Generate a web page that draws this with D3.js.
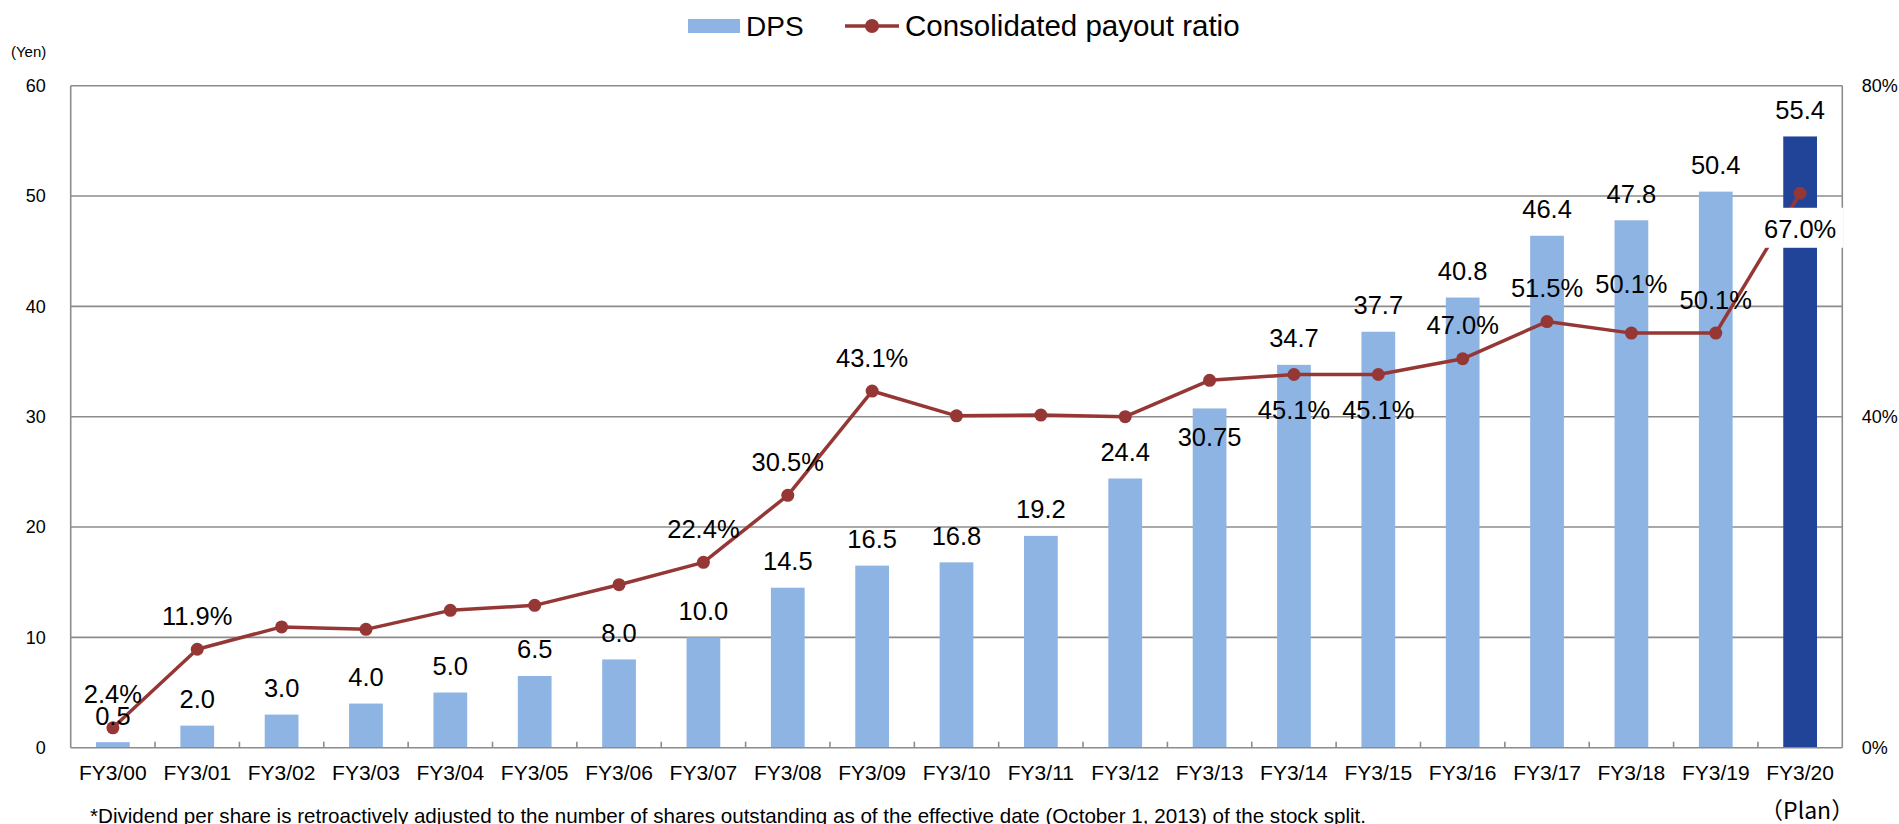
<!DOCTYPE html>
<html>
<head>
<meta charset="utf-8">
<script src="https://cdn.jsdelivr.net/npm/d3@7"></script>
<style>
  html, body { margin: 0; padding: 0; background: #fff; }
  svg { display: block; font-family: "Liberation Sans", Arial, sans-serif; }
</style>
</head>
<body>
<div id="chart"></div>
<script>
// ---- data ----
const categories = ["FY3/00", "FY3/01", "FY3/02", "FY3/03", "FY3/04", "FY3/05", "FY3/06",
    "FY3/07", "FY3/08", "FY3/09", "FY3/10", "FY3/11", "FY3/12", "FY3/13", "FY3/14",
    "FY3/15", "FY3/16", "FY3/17", "FY3/18", "FY3/19", "FY3/20"];
const dps = [0.5, 2.0, 3.0, 4.0, 5.0, 6.5, 8.0, 10.0, 14.5, 16.5, 16.8, 19.2, 24.4, 30.75,
    34.7, 37.7, 40.8, 46.4, 47.8, 50.4, 55.4];
const dpsLabels = ["0.5", "2.0", "3.0", "4.0", "5.0", "6.5", "8.0", "10.0", "14.5", "16.5",
    "16.8", "19.2", "24.4", "30.75", "34.7", "37.7", "40.8", "46.4", "47.8", "50.4", "55.4"];
const payout = [2.4, 11.9, 14.6, 14.3, 16.6, 17.2, 19.7, 22.4, 30.5, 43.1, 40.1, 40.2, 40.0,
    44.4, 45.1, 45.1, 47.0, 51.5, 50.1, 50.1, 67.0];
// payout labels that appear on the chart
const payoutLabeled = ["FY3/00", "FY3/01", "FY3/07", "FY3/08", "FY3/09", "FY3/14", "FY3/15",
    "FY3/16", "FY3/17", "FY3/18", "FY3/19", "FY3/20"];
const planCategory = "FY3/20";
const yenTicks = [0, 10, 20, 30, 40, 50, 60];
const pctTicks = [0, 40, 80];
const legendNames = ["DPS", "Consolidated payout ratio"];
const footnote = "*Dividend per share is retroactively adjusted to the number of shares outstanding as of the effective date (October 1, 2013) of the stock split.";

// ---- layout ----
const W = 1899, H = 824;
const plot = { left: 70.7, right: 1842.3, top: 85.7, bottom: 747.7 };
const barColor = "#8EB4E3", planColor = "#214499", lineColor = "#953735", gridColor = "#8c8c8c";

const svg = d3.select("#chart").append("svg")
    .attr("width", W)
    .attr("height", H);

const x = d3.scaleBand()
    .domain(categories)
    .range([plot.left, plot.right])
    .paddingInner(0.6)
    .paddingOuter(0.3);

const y = d3.scaleLinear().domain([0, 60]).range([plot.bottom, plot.top]);
const yR = d3.scaleLinear().domain([0, 80]).range([plot.bottom, plot.top]);
const cx = c => x(c) + x.bandwidth() / 2;

// gridlines
svg.append("g").selectAll("line")
    .data(yenTicks.filter(d => d > 0))
    .join("line")
    .attr("x1", plot.left).attr("x2", plot.right)
    .attr("y1", d => y(d)).attr("y2", d => y(d))
    .attr("stroke", gridColor).attr("stroke-width", 1.6);

// bars
svg.append("g").selectAll("rect")
    .data(categories)
    .join("rect")
    .attr("x", c => x(c))
    .attr("width", x.bandwidth())
    .attr("y", (c, i) => y(dps[i]))
    .attr("height", (c, i) => y(0) - y(dps[i]))
    .attr("fill", c => c === planCategory ? planColor : barColor);

// payout line
const line = d3.line()
    .x((d, i) => cx(categories[i]))
    .y(d => yR(d));

svg.append("path")
    .datum(payout)
    .attr("fill", "none")
    .attr("stroke", lineColor)
    .attr("stroke-width", 3.5)
    .attr("stroke-linejoin", "round")
    .attr("d", line);

svg.append("g").selectAll("circle")
    .data(payout)
    .join("circle")
    .attr("cx", (d, i) => cx(categories[i]))
    .attr("cy", d => yR(d))
    .attr("r", 6.5)
    .attr("fill", lineColor);

// axis frame
const frame = svg.append("g").attr("stroke", gridColor).attr("stroke-width", 1.6);
frame.append("line").attr("x1", plot.left).attr("x2", plot.left).attr("y1", plot.top).attr("y2", plot.bottom);
frame.append("line").attr("x1", plot.right).attr("x2", plot.right).attr("y1", plot.top).attr("y2", plot.bottom);
frame.append("line").attr("x1", plot.left).attr("x2", plot.right).attr("y1", plot.bottom).attr("y2", plot.bottom);
frame.selectAll(".cat-tick")
    .data(categories.slice(1))
    .join("line")
    .attr("class", "cat-tick")
    .attr("x1", c => x(c) - x.step() * x.paddingInner() / 2)
    .attr("x2", c => x(c) - x.step() * x.paddingInner() / 2)
    .attr("y1", plot.bottom).attr("y2", plot.bottom - 6);

// axes (labels only)
const leftAxis = svg.append("g")
    .attr("transform", `translate(${plot.left},0)`)
    .call(d3.axisLeft(y).tickValues(yenTicks).tickSize(0).tickPadding(25));
leftAxis.select(".domain").remove();
leftAxis.selectAll("text").attr("font-size", 18).attr("font-family", "Liberation Sans, Arial, sans-serif").attr("fill", "#000");

const rightAxis = svg.append("g")
    .attr("transform", `translate(${plot.right},0)`)
    .call(d3.axisRight(yR).tickValues(pctTicks).tickFormat(d => d + "%").tickSize(0).tickPadding(19.5));
rightAxis.select(".domain").remove();
rightAxis.selectAll("text").attr("font-size", 18).attr("font-family", "Liberation Sans, Arial, sans-serif").attr("fill", "#000");

const bottomAxis = svg.append("g")
    .attr("transform", `translate(0,${plot.bottom})`)
    .call(d3.axisBottom(x).tickSize(0));
bottomAxis.select(".domain").remove();
bottomAxis.selectAll("text")
    .attr("y", 32.3).attr("dy", 0)
    .attr("font-size", 21).attr("font-family", "Liberation Sans, Arial, sans-serif").attr("fill", "#000");

svg.append("text")
    .attr("x", cx(planCategory) + 7)
    .attr("y", 819)
    .attr("text-anchor", "middle")
    .attr("font-family", "Noto Sans CJK JP, sans-serif")
    .attr("font-size", 23)
    .text("（Plan）");

svg.append("text")
    .attr("x", 11).attr("y", 57)
    .attr("font-size", 15)
    .text("(Yen)");

// DPS value labels
const dpsNudge = { "FY3/13": 55.5 };
svg.append("g").selectAll("text")
    .data(categories)
    .join("text")
    .attr("x", c => cx(c))
    .attr("y", (c, i) => y(dps[i]) - 17.5 + (dpsNudge[c] || 0))
    .attr("text-anchor", "middle")
    .attr("font-size", 25.5)
    .text((c, i) => dpsLabels[i]);

// payout value labels
const below = new Set(["FY3/14", "FY3/15", "FY3/20"]);
const payoutNudge = { "FY3/18": -15.5 };
const pl = svg.append("g");
categories.forEach((c, i) => {
    if (!payoutLabeled.includes(c)) return;
    const py = yR(payout[i]);
    const by = below.has(c) ? py + 44.5 : py - 24.5 + (payoutNudge[c] || 0);
    if (c === planCategory) {
        pl.append("rect")
            .attr("x", cx(c) - 42).attr("y", by - 30)
            .attr("width", 85).attr("height", 40)
            .attr("fill", "#fff");
    }
    pl.append("text")
        .attr("x", cx(c))
        .attr("y", by)
        .attr("text-anchor", "middle")
        .attr("font-size", 25.5)
        .text(payout[i].toFixed(1) + "%");
});

// legend
const lg = svg.append("g");
lg.append("rect").attr("x", 688).attr("y", 19).attr("width", 52).attr("height", 14).attr("fill", barColor);
lg.append("text").attr("x", 746).attr("y", 36).attr("font-size", 28).text(legendNames[0]);
lg.append("line").attr("x1", 845).attr("x2", 899).attr("y1", 26).attr("y2", 26)
    .attr("stroke", lineColor).attr("stroke-width", 3.5);
lg.append("circle").attr("cx", 872).attr("cy", 26).attr("r", 7).attr("fill", lineColor);
lg.append("text").attr("x", 905).attr("y", 36).attr("font-size", 29.5).text(legendNames[1]);

// footnote
svg.append("text")
    .attr("x", 90).attr("y", 823)
    .attr("font-size", 20.6)
    .text(footnote);
</script>
</body>
</html>
